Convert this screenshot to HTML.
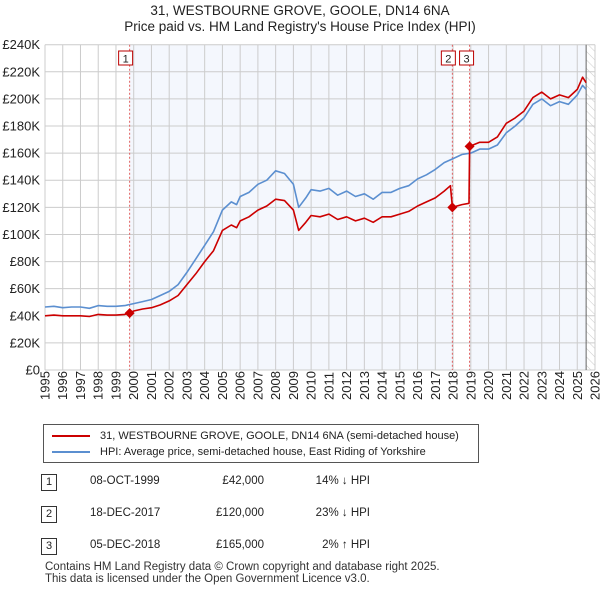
<!DOCTYPE html>
<html><head><meta charset="utf-8"><style>
body{margin:0;width:600px;height:590px;background:#fff;font-family:"Liberation Sans","DejaVu Sans",sans-serif;overflow:hidden;position:relative}
.t{position:absolute;color:#222;white-space:nowrap}
</style></head><body>
<div class="t" style="left:0;width:600px;text-align:center;top:3px;font-size:13.5px;line-height:16px">31, WESTBOURNE GROVE, GOOLE, DN14 6NA<br>Price paid vs. HM Land Registry's House Price Index (HPI)</div>
<svg id="chart" width="600" height="410" style="position:absolute;left:0;top:0" font-family="Liberation Sans, DejaVu Sans, sans-serif"></svg>
<div style="position:absolute;left:43px;top:424px;width:434px;height:37px;border:1px solid #555;font-size:11px;color:#222">
 <div style="position:absolute;left:8px;top:5px"><span style="display:inline-block;width:38px;border-top:2px solid #cc0000;vertical-align:middle;margin-right:10px"></span>31, WESTBOURNE GROVE, GOOLE, DN14 6NA (semi-detached house)</div>
 <div style="position:absolute;left:8px;top:21px"><span style="display:inline-block;width:38px;border-top:2px solid #5b8fd0;vertical-align:middle;margin-right:10px"></span>HPI: Average price, semi-detached house, East Riding of Yorkshire</div>
</div>
<div id="tbl"></div>
<div class="t" style="left:45px;top:561px;font-size:11.5px;line-height:12px;color:#333">Contains HM Land Registry data © Crown copyright and database right 2025.<br>This data is licensed under the Open Government Licence v3.0.</div>
<script>
const yearTicks=[1995,1996,1997,1998,1999,2000,2001,2002,2003,2004,2005,2006,2007,2008,2009,2010,2011,2012,2013,2014,2015,2016,2017,2018,2019,2020,2021,2022,2023,2024,2025,2026];
const priceTicks=[0,20,40,60,80,100,120,140,160,180,200,220,240];
const hpiYears=[1995,1995.5,1996,1996.5,1997,1997.5,1998,1998.5,1999,1999.5,2000,2000.5,2001,2001.5,2002,2002.5,2003,2003.5,2004,2004.5,2005,2005.5,2005.8,2006,2006.5,2007,2007.5,2008,2008.5,2009,2009.3,2009.7,2010,2010.5,2011,2011.5,2012,2012.5,2013,2013.5,2014,2014.5,2015,2015.5,2016,2016.5,2017,2017.5,2018,2018.5,2019,2019.5,2020,2020.5,2021,2021.5,2022,2022.5,2023,2023.5,2024,2024.5,2025,2025.3,2025.5];
const hpiValues=[46.5,47,46,46.5,46.5,45.5,47.5,47,47,47.5,49,50.5,52,55,58,63,72,82,92,102,118,124,122,128,131,137,140,147,145,137,120,127,133,132,134,129,132,128,130,126,131,131,134,136,141,144,148,153,156,159,160,163,163,166,175,180,186,196,200,195,198,196,203,210,207];
const ppYears=[1995,1995.5,1996,1996.5,1997,1997.5,1998,1998.5,1999,1999.5,1999.77,2000,2000.5,2001,2001.5,2002,2002.5,2003,2003.5,2004,2004.5,2005,2005.5,2005.8,2006,2006.5,2007,2007.5,2008,2008.5,2009,2009.3,2009.7,2010,2010.5,2011,2011.5,2012,2012.5,2013,2013.5,2014,2014.5,2015,2015.5,2016,2016.5,2017,2017.5,2017.85,2017.96,2018.5,2018.9,2018.93,2019.5,2020,2020.5,2021,2021.5,2022,2022.5,2023,2023.5,2024,2024.5,2025,2025.3,2025.5];
const ppValues=[40,40.5,40,40,40,39.5,41,40.5,40.5,41,42,43.5,45,46,48,51,55,63,71,80,88,103,107,105,110,113,118,121,126,125,118,103,109,114,113,115,111,113,110,112,109,113,113,115,117,121,124,127,132,136,120,122,123,165,168,168,172,182,186,191,201,205,200,203,201,207,216,212];
const saleYears=[1999.77,2017.96,2018.93];
const saleValues=[42,120,165];
const saleLabels=["1","2","3"];
const saleDates=["08-OCT-1999","18-DEC-2017","05-DEC-2018"];
const salePrices=["£42,000","£120,000","£165,000"];
const saleHpi=["14% ↓ HPI","23% ↓ HPI","2% ↑ HPI"];

const X0=45,X1=595,Y0=370,Y1=44.7;
const xs=y=>X0+(y-1995)*(X1-X0)/31;
const ys=v=>Y0-v*(Y0-Y1)/240;
const svg=document.getElementById('chart');
const NS='http://www.w3.org/2000/svg';
function mk(t,a){const e=document.createElementNS(NS,t);for(const k in a)e.setAttribute(k,a[k]);svg.appendChild(e);return e;}
const dataEnd=2025.5;
let r=mk('rect',{x:xs(saleYears[0]),y:Y1,width:xs(saleYears[1])-xs(saleYears[0]),height:Y0-Y1,fill:'#f4f7fd'});


r=mk('rect',{x:xs(saleYears[2]),y:Y1,width:xs(dataEnd)-xs(saleYears[2]),height:Y0-Y1,fill:'#f4f7fd'});


const defs=mk('defs',{});
defs.innerHTML='<pattern id="h" width="6" height="6" patternUnits="userSpaceOnUse" patternTransform="rotate(-45)"><line x1="0" y1="0" x2="0" y2="6" stroke="#ccc" stroke-width="1"/></pattern>';
r=mk('rect',{x:xs(dataEnd),y:Y1,width:X1-xs(dataEnd),height:Y0-Y1,fill:'url(#h)'});


yearTicks.forEach(y=>{mk('line',{x1:xs(y),x2:xs(y),y1:Y1,y2:Y0,stroke:'#ccc','stroke-width':1});
 const t=mk('text',{transform:`translate(${xs(y)+4.5},400) rotate(-90)`,'font-size':13,fill:'#222'});t.textContent=y;
 
 });
priceTicks.forEach(v=>{mk('line',{x1:X0,x2:X1,y1:ys(v),y2:ys(v),stroke:'#ccc','stroke-width':1});
 const t=mk('text',{x:40,y:ys(v)+4.5,'font-size':13,'text-anchor':'end',fill:'#222'});t.textContent=v===0?'£0':'£'+v+'K';
 
 });
mk('line',{x1:xs(dataEnd),x2:xs(dataEnd),y1:Y1,y2:Y0,stroke:'#666','stroke-width':1});
const boxOff=[-4,-4,-3];
saleYears.forEach((y,i)=>{mk('line',{x1:xs(y),x2:xs(y),y1:Y1,y2:Y0,stroke:'#e06060','stroke-width':1,'stroke-dasharray':'2,2'});
 const g=mk('g',{});
 
 
 const c=xs(y)+boxOff[i];
 g.innerHTML=`<rect x="${c-7}" y="51" width="14" height="14" fill="#fff" stroke="#b00"/><text x="${c}" y="62.5" font-size="11" text-anchor="middle" fill="#222">${saleLabels[i]}</text>`;});
function line(xa,va,col,name){const d=xa.map((y,i)=>(i?'L':'M')+xs(y).toFixed(1)+','+ys(va[i]).toFixed(1)).join('');
 const p=mk('path',{d,fill:'none',stroke:col,'stroke-width':1.6,'stroke-linejoin':'round'});
 
 }
line(hpiYears,hpiValues,'#5b8fd0','hpi-line');
line(ppYears,ppValues,'#cc0000','price-paid-line');
saleYears.forEach((y,i)=>{const c=xs(y),v=ys(saleValues[i]);
 const p=mk('path',{d:`M${c},${v-5}L${c+5},${v}L${c},${v+5}L${c-5},${v}Z`,fill:'#cc0000'});
 
 });
const tbl=document.getElementById('tbl');
saleDates.forEach((d,i)=>{const top=474+i*32;
 const row=document.createElement('div');
 
 
 row.innerHTML=`<div class="t" style="left:41px;top:${top}px;width:14px;height:15px;border:1px solid #333;font-size:11px;text-align:center;line-height:15px">${saleLabels[i]}</div>
 <div class="t" style="left:90px;top:${top+1}px;font-size:11.5px">${d}</div>
 <div class="t" style="left:160px;width:104px;text-align:right;top:${top+1}px;font-size:11.5px">${salePrices[i]}</div>
 <div class="t" style="left:280px;width:90px;text-align:right;top:${top+1}px;font-size:11.5px">${saleHpi[i]}</div>`;
 tbl.appendChild(row);});
</script>
</body></html>
